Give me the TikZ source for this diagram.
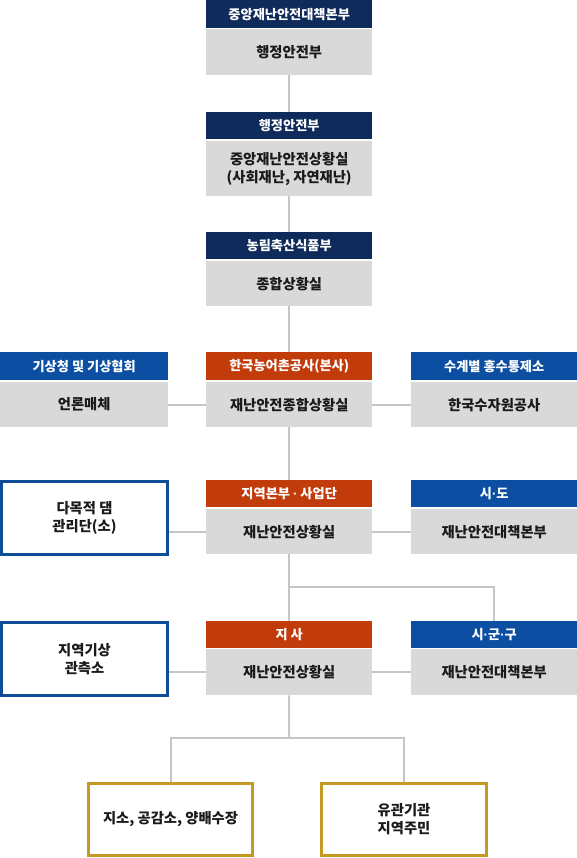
\documentclass[tikz,border=0pt]{standalone}
\usepackage{fontspec}
\newfontfamily\kr{Noto Sans CJK KR}
\newfontfamily\lat{Liberation Sans}
\newcommand{\mdot}{{\lat\bfseries ·}}
\definecolor{navy}{HTML}{0F2B5B}
\definecolor{blueh}{HTML}{0B4EA2}
\definecolor{orangeh}{HTML}{C23B0B}
\definecolor{boxgray}{HTML}{D9D9D9}
\definecolor{linegray}{HTML}{C6C6C6}
\definecolor{gold}{HTML}{C49A22}
\definecolor{outblue}{HTML}{0F4C97}
\definecolor{txt}{HTML}{1A1A1A}
\tikzset{
  hdr/.style={anchor=north west, inner sep=0pt, minimum width=166pt, minimum height=#1, text=white,
    font=\kr\bfseries\fontsize{13.2}{15}\selectfont},
  navyhdr/.style={hdr=#1, fill=navy},
  bluehdr/.style={hdr=#1, fill=blueh},
  orghdr/.style={hdr=#1, fill=orangeh},
  body/.style={anchor=north west, inner sep=0pt, minimum width=166pt, minimum height=#1, fill=boxgray,
    text=txt, align=center, font=\kr\bfseries\fontsize{14.3}{18}\selectfont},
  outbox/.style={draw=outblue, line width=3pt, inner sep=0pt, minimum width=166pt, minimum height=73pt,
    text=txt, align=center, font=\kr\bfseries\fontsize{14.3}{18}\selectfont},
  goldbox/.style={draw=gold, line width=3pt, inner sep=0pt, minimum height=72pt,
    text=txt, align=center, font=\kr\bfseries\fontsize{14.3}{18}\selectfont},
  conn/.style={draw=linegray, line width=2pt},
}
\begin{document}
\begin{tikzpicture}[x=1pt,y=1pt]
\useasboundingbox (0,0) rectangle (577,-858);
% top chain
\node[navyhdr=28pt] (h1) at (206,0) {중앙재난안전대책본부};
\node[body=46pt] (b1) at (206,-29) {행정안전부};
\node[navyhdr=27pt] (h2) at (206,-112) {행정안전부};
\node[body=55pt] (b2) at (206,-141) {중앙재난안전상황실\\(사회재난, 자연재난)};
\node[navyhdr=27pt] (h3) at (206,-232) {농림축산식품부};
\node[body=45pt] (b3) at (206,-261) {종합상황실};
% row D
\node[bluehdr=28pt, minimum width=168pt] (hL1) at (0,-352) {기상청 및 기상협회};
\node[body=45pt, minimum width=168pt] (bL1) at (0,-382) {언론매체};
\node[orghdr=28pt] (hD) at (206,-352) {한국농어촌공사(본사)};
\node[body=45pt] (bD) at (206,-382) {재난안전종합상황실};
\node[bluehdr=28pt] (hR1) at (411,-352) {수계별 홍수통제소};
\node[body=45pt] (bR1) at (411,-382) {한국수자원공사};
% row E
\node[outbox] (lE) at (84.5,-518) {다목적 댐\\관리단(소)};
\node[orghdr=27pt] (hE) at (206,-480) {지역본부 \mdot{} 사업단};
\node[body=45pt] (bE) at (206,-509) {재난안전상황실};
\node[bluehdr=27pt] (hR2) at (411,-480) {시\mdot{}도};
\node[body=45pt] (bR2) at (411,-509) {재난안전대책본부};
% row F
\node[outbox] (lF) at (84.5,-659) {지역기상\\관측소};
\node[orghdr=27pt] (hF) at (206,-621) {지 사};
\node[body=46pt] (bF) at (206,-649) {재난안전상황실};
\node[bluehdr=27pt] (hR3) at (411,-621) {시\mdot{}군\mdot{}구};
\node[body=46pt] (bR3) at (411,-649) {재난안전대책본부};
% bottom
\node[goldbox, minimum width=164pt] (g1) at (170.5,-819.5) {지소, 공감소, 양배수장};
\node[goldbox, minimum width=165pt] (g2) at (404,-819.5) {유관기관\\지역주민};
% connectors
\draw[conn] (b1.south) -- (h2.north);
\draw[conn] (b2.south) -- (h3.north);
\draw[conn] (b3.south) -- (hD.north);
\draw[conn] (bL1.east) -- (bD.west);
\draw[conn] (bD.east) -- (bR1.west);
\draw[conn] (bD.south) -- (hE.north);
\draw[conn] (bE.west -| lE.east) -- (bE.west);
\draw[conn] (bE.east) -- (bR2.west);
\draw[conn] (bE.south) -- (hF.north);
\coordinate (j1) at (289,-587);
\draw[conn] (j1) -| (hR3.north);
\draw[conn] (bF.west -| lF.east) -- (bF.west);
\draw[conn] (bF.east) -- (bR3.west);
\coordinate (j2) at (289,-738);
\draw[conn] (bF.south) -- (j2);
\draw[conn] (g1.north) |- (j2) -| (g2.north);
\end{tikzpicture}
\end{document}
